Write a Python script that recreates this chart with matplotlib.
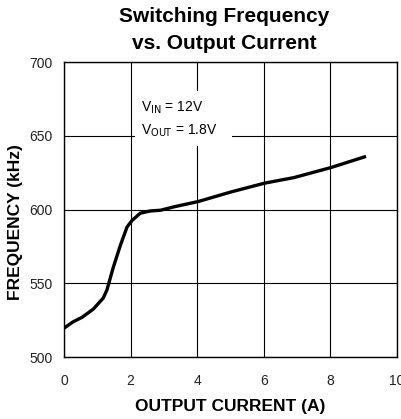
import matplotlib
matplotlib.use("Agg")
import matplotlib.pyplot as plt
from matplotlib.patches import Rectangle

plt.rcParams['font.family'] = ['Liberation Sans', 'DejaVu Sans']

current_a = [0.0, 0.27, 0.55, 0.88, 1.18, 1.29, 1.48, 1.69, 1.89, 2.04, 2.29, 2.59, 2.9, 3.3, 4.03, 5.0, 6.03, 6.9, 8.01, 9.07]
freq_khz = [519.5, 523.8, 527.0, 532.5, 540.0, 545.5, 560.8, 575.5, 588.0, 592.5, 597.5, 599.0, 599.5, 601.8, 605.4, 611.8, 617.9, 621.6, 628.4, 636.0]

x_ticks = [0, 2, 4, 6, 8, 10]
y_ticks = [500, 550, 600, 650, 700]

fig = plt.figure(figsize=(4.01, 4.19), dpi=100)
ax = fig.add_axes([64/401, 1-357/419, (397-64)/401, (357-62)/419])

ax.set_xlim(0, 10)
ax.set_ylim(500, 700)
ax.set_xticks(x_ticks)
ax.set_yticks(y_ticks)
ax.tick_params(length=0, labelsize=10, colors='#222222')
ax.tick_params(axis='x', pad=12)
ax.tick_params(axis='y', pad=8)
ax.grid(True, color='black', linewidth=0.8)
ax.set_axisbelow(True)
for s in ax.spines.values():
    s.set_linewidth(1.0)
    s.set_color('black')

ax.plot(current_a, freq_khz, color='black', linewidth=2.4, solid_capstyle='butt', zorder=3)

# annotation box
ax.add_patch(Rectangle((2.12, 643), 2.92, 37, facecolor='white', edgecolor='none', zorder=2.5))
ax.text(2.32, 669, "V$_{\\mathrm{IN}}$ = 12V", fontsize=10, ha='left', va='center', zorder=4)
ax.text(2.32, 653.5, "V$_{\\mathrm{OUT}}$ = 1.8V", fontsize=10, ha='left', va='center', zorder=4)

ax.set_xlabel("OUTPUT CURRENT (A)", fontsize=12.5, fontweight='bold', labelpad=8)
ax.set_ylabel("FREQUENCY (kHz)", fontsize=12.5, fontweight='bold')
ax.yaxis.set_label_coords(-0.123, 0.458)
fig.text(224/401, 0.983, "Switching Frequency\nvs. Output Current", ha='center', va='top',
         fontsize=15, fontweight='bold', linespacing=1.55)

fig.savefig("out.png", dpi=100)
